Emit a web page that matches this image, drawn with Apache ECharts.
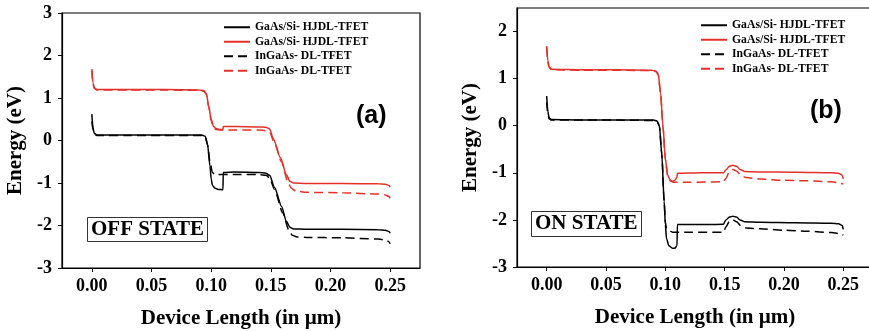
<!DOCTYPE html>
<html>
<head>
<meta charset="utf-8">
<script src="https://cdn.jsdelivr.net/npm/echarts@6/dist/echarts.min.js"></script>
<style>
  html, body { margin: 0; padding: 0; background: #fff; }
  #chart { width: 869px; height: 331px; }
</style>
</head>
<body>
<div id="chart"></div>
<script>
// [x (um), energy (eV)] read from the reference
// panel (a) OFF state
const offGaAsEv = [[0,1.68],[0.001,1.35],[0.002,1.24],[0.004,1.2],[0.03,1.2],[0.06,1.2],[0.09,1.19],[0.094,1.17],[0.096,1.1],[0.098,0.8],[0.1,0.5],[0.102,0.33],[0.104,0.28],[0.107,0.26],[0.1098,0.26],[0.1102,0.33],[0.12,0.33],[0.14,0.32],[0.146,0.31],[0.149,0.27],[0.152,0.05],[0.158,-0.4],[0.163,-0.8],[0.166,-0.96],[0.169,-1.0],[0.18,-1.01],[0.21,-1.01],[0.24,-1.02],[0.246,-1.03],[0.249,-1.06],[0.25,-1.1]]
const offInGaAsEv = [[0,1.65],[0.001,1.33],[0.002,1.23],[0.004,1.19],[0.03,1.19],[0.06,1.19],[0.09,1.18],[0.094,1.16],[0.096,1.08],[0.098,0.78],[0.1,0.47],[0.102,0.31],[0.104,0.26],[0.108,0.25],[0.12,0.25],[0.14,0.25],[0.146,0.23],[0.149,0.19],[0.153,-0.05],[0.159,-0.5],[0.164,-0.95],[0.167,-1.12],[0.171,-1.19],[0.18,-1.22],[0.21,-1.23],[0.24,-1.26],[0.246,-1.28],[0.249,-1.32],[0.25,-1.36]]
const offGaAsEc = [[0,0.62],[0.001,0.3],[0.002,0.17],[0.004,0.13],[0.03,0.13],[0.06,0.13],[0.092,0.13],[0.095,0.1],[0.097,-0.1],[0.099,-0.6],[0.1,-0.9],[0.101,-1.05],[0.103,-1.12],[0.106,-1.15],[0.1099,-1.16],[0.1101,-0.75],[0.12,-0.74],[0.14,-0.75],[0.146,-0.77],[0.149,-0.82],[0.153,-1.1],[0.159,-1.55],[0.163,-1.9],[0.166,-2.04],[0.169,-2.08],[0.18,-2.09],[0.21,-2.09],[0.24,-2.1],[0.246,-2.11],[0.249,-2.14],[0.25,-2.18]]
const offInGaAsEc = [[0,0.45],[0.001,0.25],[0.002,0.16],[0.004,0.12],[0.03,0.12],[0.06,0.12],[0.092,0.12],[0.095,0.09],[0.097,-0.1],[0.099,-0.5],[0.101,-0.75],[0.103,-0.8],[0.12,-0.8],[0.14,-0.8],[0.146,-0.82],[0.149,-0.88],[0.153,-1.15],[0.16,-1.7],[0.165,-2.1],[0.168,-2.23],[0.172,-2.27],[0.18,-2.28],[0.21,-2.29],[0.24,-2.32],[0.246,-2.34],[0.249,-2.38],[0.25,-2.43]]

// panel (b) ON state
const onGaAsEv = [[0,1.69],[0.001,1.38],[0.002,1.25],[0.004,1.2],[0.03,1.19],[0.06,1.19],[0.088,1.18],[0.092,1.16],[0.094,1.1],[0.096,0.7],[0.098,0.0],[0.1,-0.7],[0.102,-1.05],[0.104,-1.15],[0.106,-1.18],[0.108,-1.16],[0.1098,-1.1],[0.1102,-1.01],[0.13,-1.0],[0.149,-1.0],[0.151,-0.94],[0.154,-0.86],[0.157,-0.84],[0.16,-0.86],[0.163,-0.93],[0.167,-0.97],[0.18,-0.98],[0.21,-0.99],[0.24,-1.0],[0.246,-1.01],[0.249,-1.05],[0.25,-1.13]]
const onInGaAsEv = [[0,1.66],[0.001,1.36],[0.002,1.24],[0.004,1.19],[0.03,1.18],[0.06,1.18],[0.088,1.17],[0.092,1.15],[0.094,1.09],[0.096,0.68],[0.098,-0.02],[0.1,-0.72],[0.102,-1.07],[0.104,-1.17],[0.107,-1.2],[0.12,-1.2],[0.149,-1.19],[0.151,-1.12],[0.154,-0.97],[0.157,-0.93],[0.16,-0.96],[0.164,-1.06],[0.168,-1.1],[0.18,-1.13],[0.2,-1.16],[0.22,-1.17],[0.24,-1.19],[0.246,-1.21],[0.25,-1.24]]
const onGaAsEc = [[0,0.63],[0.001,0.3],[0.002,0.17],[0.004,0.13],[0.03,0.12],[0.06,0.12],[0.09,0.12],[0.093,0.1],[0.095,0.0],[0.097,-0.6],[0.099,-1.6],[0.1,-2.1],[0.101,-2.4],[0.103,-2.55],[0.106,-2.6],[0.108,-2.6],[0.1098,-2.55],[0.1102,-2.1],[0.13,-2.1],[0.149,-2.09],[0.151,-2.0],[0.154,-1.94],[0.157,-1.92],[0.16,-1.94],[0.163,-2.0],[0.167,-2.04],[0.18,-2.05],[0.21,-2.06],[0.24,-2.07],[0.246,-2.08],[0.249,-2.12],[0.25,-2.2]]
const onInGaAsEc = [[0,0.5],[0.001,0.25],[0.002,0.15],[0.004,0.12],[0.03,0.12],[0.06,0.12],[0.09,0.11],[0.093,0.09],[0.095,-0.01],[0.097,-0.6],[0.099,-1.6],[0.1,-2.05],[0.101,-2.18],[0.103,-2.23],[0.106,-2.26],[0.12,-2.26],[0.149,-2.26],[0.151,-2.15],[0.154,-2.03],[0.157,-2.0],[0.16,-2.04],[0.164,-2.13],[0.168,-2.17],[0.18,-2.19],[0.2,-2.22],[0.22,-2.24],[0.24,-2.27],[0.246,-2.29],[0.25,-2.32]]

const xTicks = [0, 0.05, 0.1, 0.15, 0.2, 0.25]
const yTicksA = [-3, -2, -1, 0, 1, 2, 3]
const yTicksB = [-3, -2, -1, 0, 1, 2]
const legendText = {
  gaasBlack: 'GaAs/Si- HJDL-TFET',
  gaasRed: 'GaAs/Si- HJDL-TFET',
  ingaasBlack: 'InGaAs- DL-TFET',
  ingaasRed: 'InGaAs- DL-TFET',
}

const serif = '"Liberation Serif", "Times New Roman", serif'
const RED = '#e4302a'

function xAxis(gridIndex) {
  return {
    type: 'value',
    gridIndex,
    min: -0.025,
    max: 0.275,
    name: 'Device Length (in µm)',
    nameLocation: 'middle',
    nameGap: 40,
    nameTextStyle: { fontFamily: serif, fontWeight: 'bold', fontSize: 21, color: '#000' },
    axisLine: { onZero: false, lineStyle: { color: '#000', width: 1.2 } },
    axisTick: { length: 4, customValues: xTicks, lineStyle: { color: '#000' } },
    axisLabel: {
      customValues: xTicks,
      margin: 9,
      fontFamily: serif, fontWeight: 'bold', fontSize: 18, color: '#000',
      formatter: (v) => v.toFixed(2),
    },
    splitLine: { show: false },
  }
}

function yAxis(gridIndex, min, max, ticks) {
  return {
    type: 'value',
    gridIndex,
    min,
    max,
    name: 'Energy (eV)',
    nameLocation: 'middle',
    nameGap: 36,
    nameTextStyle: { fontFamily: serif, fontWeight: 'bold', fontSize: 21, color: '#000' },
    axisLine: { show: true, onZero: false, lineStyle: { color: '#000', width: 1.2 } },
    axisTick: { show: true, length: 4, customValues: ticks, lineStyle: { color: '#000' } },
    axisLabel: {
      customValues: ticks,
      margin: 10,
      fontFamily: serif, fontWeight: 'bold', fontSize: 18, color: '#000',
    },
    splitLine: { show: false },
  }
}

function line(name, idx, data, color, dashed) {
  return {
    name,
    type: 'line',
    xAxisIndex: idx,
    yAxisIndex: idx,
    data,
    showSymbol: false,
    symbol: 'none',
    smooth: 0.25,
    smoothMonotone: 'x',
    lineStyle: { color, width: 1.5, type: dashed ? [9, 5] : 'solid' },
    itemStyle: { color },
  }
}

function legend(left, top, names) {
  return {
    left,
    top,
    padding: 0,
    orient: 'vertical',
    data: names,
    itemWidth: 26,
    itemHeight: 10,
    itemGap: 0,
    selectedMode: false,
    itemStyle: { opacity: 0 },
    formatter: (n) => legendText[n.split('-')[1]],
    textStyle: { fontFamily: serif, fontWeight: 'bold', fontSize: 11.7, lineHeight: 14.5, color: '#000' },
  }
}

const chart = echarts.init(document.getElementById('chart'), null, { renderer: 'canvas' })

chart.setOption({
  animation: false,
  backgroundColor: '#fff',
  title: [
    { text: 'OFF STATE', left: 87, top: 217, padding: [2, 4],
      borderColor: '#333', borderWidth: 1,
      textStyle: { fontFamily: serif, fontWeight: 'bold', fontSize: 21, lineHeight: 21, color: '#000' } },
    { text: 'ON STATE', left: 531, top: 211, padding: [2, 4],
      borderColor: '#333', borderWidth: 1,
      textStyle: { fontFamily: serif, fontWeight: 'bold', fontSize: 21, lineHeight: 22, color: '#000' } },
    { text: '(a)', left: 356, top: 104, padding: 0,
      textStyle: { fontFamily: '"Liberation Sans", Arial, sans-serif', fontWeight: 'bold', fontSize: 25, color: '#000' } },
    { text: '(b)', left: 810, top: 99, padding: 0,
      textStyle: { fontFamily: '"Liberation Sans", Arial, sans-serif', fontWeight: 'bold', fontSize: 25, color: '#000' } },
  ],
  legend: [
    legend(223, 20, ['a-gaasBlack', 'a-gaasRed', 'a-ingaasBlack', 'a-ingaasRed']),
    legend(700, 18, ['b-gaasBlack', 'b-gaasRed', 'b-ingaasBlack', 'b-ingaasRed']),
  ],
  grid: [
    { left: 62, top: 13, width: 358, height: 255, outerBoundsMode: 'none',
      show: true, borderColor: '#000', borderWidth: 1.2 },
    { left: 517, top: 8, right: -4, height: 259, outerBoundsMode: 'none',
      show: true, borderColor: '#000', borderWidth: 1.2 },
  ],
  xAxis: [xAxis(0), xAxis(1)],
  yAxis: [yAxis(0, -3, 3, yTicksA), yAxis(1, -3, 2.5, yTicksB)],
  series: [
    line('a-gaasBlack', 0, offGaAsEc, '#000', false),
    line('a-gaasRed', 0, offGaAsEv, RED, false),
    line('a-ingaasBlack', 0, offInGaAsEc, '#000', true),
    line('a-ingaasRed', 0, offInGaAsEv, RED, true),
    line('b-gaasBlack', 1, onGaAsEc, '#000', false),
    line('b-gaasRed', 1, onGaAsEv, RED, false),
    line('b-ingaasBlack', 1, onInGaAsEc, '#000', true),
    line('b-ingaasRed', 1, onInGaAsEv, RED, true),
  ],
})
</script>
</body>
</html>
